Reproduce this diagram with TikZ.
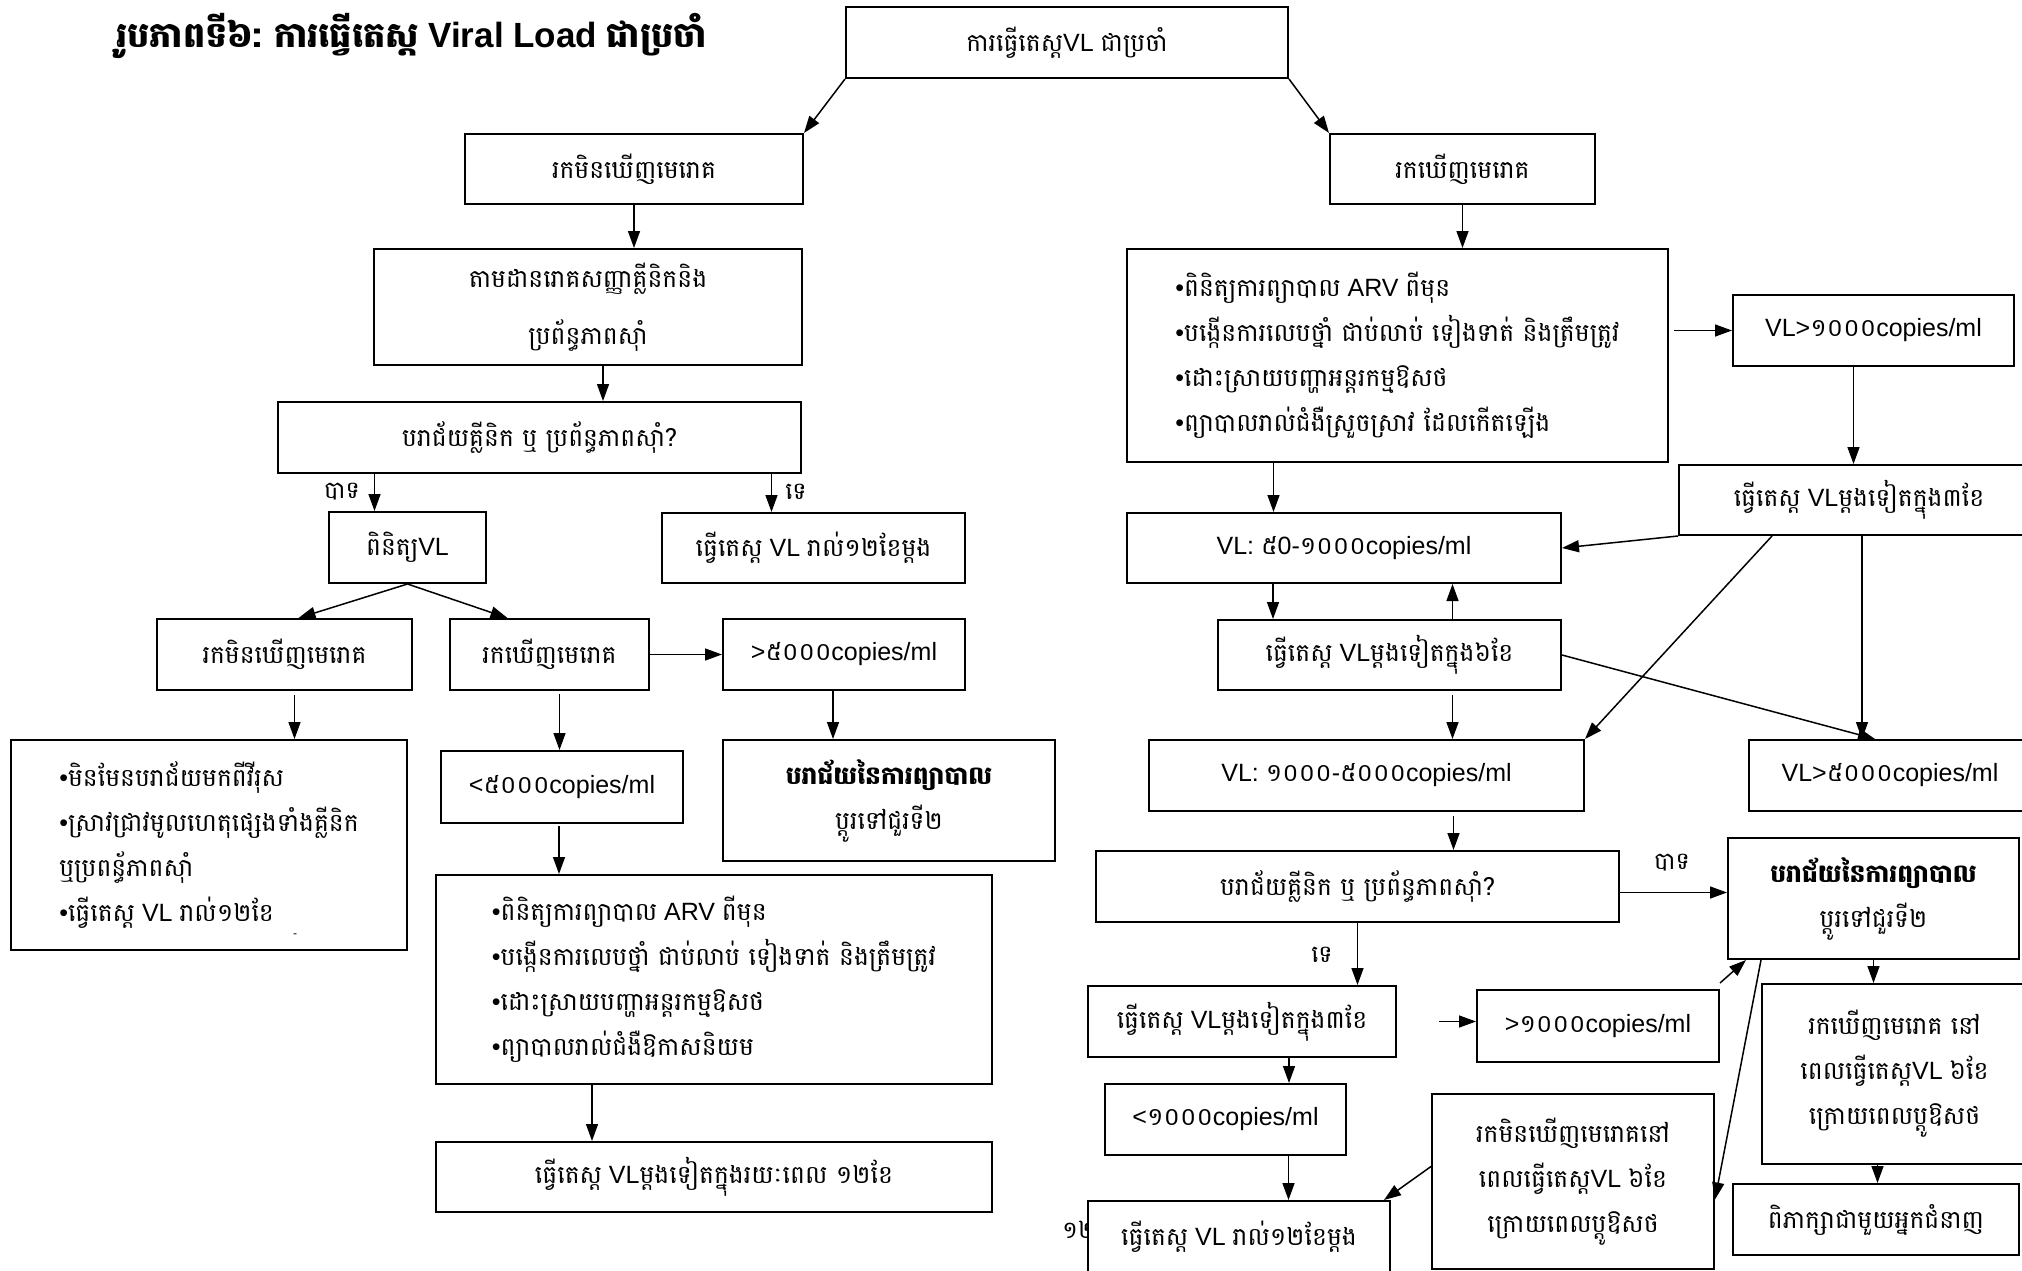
\documentclass[tikz,border=0pt]{standalone}
\usepackage{fontspec}
\setmainfont{Liberation Sans}
\newfontfamily\kh[Script=Khmer]{Battambang}
\usetikzlibrary{arrows.meta}
\newcommand\K[1]{{\kh #1}}
\begin{document}
\begin{tikzpicture}[x=1pt,y=-1pt,
 box/.style={draw, line width=2pt, fill=white, inner sep=0pt, anchor=north west, align=center, font=\fontsize{25}{30}\selectfont},
 blist/.style={box, align=left, font=\fontsize{25}{45}\selectfont},
 conn/.style={line width=1.5pt, -{Triangle[length=17pt,width=12pt]}},
 lbl/.style={font=\fontsize{24}{30}\selectfont\kh, inner sep=0pt}]
\useasboundingbox (0,0) rectangle (2022,1271);
\clip (0,0) rectangle (2022,1271);
\fill[white] (0,0) rectangle (2022,1271);

% title
\node[font=\fontsize{35}{40}\selectfont\bfseries, anchor=west] (title) at (113,36) {\K{រូបភាពទី៦:} \K{ការធ្វើតេស្ត} Viral Load \K{ជាប្រចាំ}};

% left branch
\node[box, minimum width=442pt, minimum height=71pt] (A) at (845,6) {\K{ការធ្វើតេស្ត}VL \K{ជាប្រចាំ}};
\node[box, minimum width=338pt, minimum height=70pt] (B) at (464,133) {\K{រកមិនឃើញមេរោគ}};
\node[box, minimum width=265pt, minimum height=70pt] (C) at (1329,133) {\K{រកឃើញមេរោគ}};
\node[box, minimum width=428pt, minimum height=116pt, font=\fontsize{25}{57}\selectfont] (D) at (373,248) {\K{តាមដានរោគសញ្ញាគ្លីនិកនិង}\\\K{ប្រព័ន្ធភាពស៊ាំ}};
\node[box, minimum width=523pt, minimum height=71pt] (E) at (277,401) {\K{បរាជ័យគ្លីនិក ឬ ប្រព័ន្ធភាពស៊ាំ?}};
\node[box, minimum width=157pt, minimum height=71pt] (F) at (328,511) {\K{ពិនិត្យ}VL};
\node[box, minimum width=303pt, minimum height=70pt] (G) at (661,512) {\K{ធ្វើតេស្ត} VL \K{រាល់១២ខែម្តង}};
\node[box, minimum width=255pt, minimum height=71pt] (H) at (156,618) {\K{រកមិនឃើញមេរោគ}};
\node[box, minimum width=199pt, minimum height=71pt] (I) at (449,618) {\K{រកឃើញមេរោគ}};
\node[box, minimum width=242pt, minimum height=71pt] (J) at (722,618) {>\K{៥០០០}copies/ml};
\node[blist, minimum width=396pt, minimum height=210pt] (K) at (10,739) {•\K{មិនមែនបរាជ័យមកពីវីរុស}\\•\K{ស្រាវជ្រាវមូលហេតុផ្សេងទាំងគ្លីនិក}\\\K{ឬប្រពន្ធ័ភាពស៊ាំ}\\•\K{ធ្វើតេស្ត} VL \K{រាល់១២ខែ}};
\node[font=\fontsize{12}{14}\selectfont, inner sep=0pt] (dash) at (295,936) {-};
\node[box, minimum width=242pt, minimum height=72pt] (L) at (440,750) {<\K{៥០០០}copies/ml};
\node[box, minimum width=332pt, minimum height=121pt, font=\fontsize{25}{45}\selectfont] (M) at (722,739) {\textbf{\K{បរាជ័យនៃការព្យាបាល}}\\\K{ប្តូរទៅជួរទី២}};
\node[blist, minimum width=556pt, minimum height=209pt] (N) at (435,874) {•\K{ពិនិត្យការព្យាបាល} ARV \K{ពីមុន}\\•\K{បង្កើនការលេបថ្នាំ ជាប់លាប់ ទៀងទាត់ និងត្រឹមត្រូវ}\\•\K{ដោះស្រាយបញ្ហាអន្តរកម្មឱសថ}\\•\K{ព្យាបាលរាល់ជំងឺឱកាសនិយម}};
\node[box, minimum width=556pt, minimum height=70pt] (O) at (435,1141) {\K{ធ្វើតេស្ត} VL\K{ម្តងទៀតក្នុងរយៈពេល ១២ខែ}};

% right branch
\node[blist, minimum width=541pt, minimum height=213pt] (P) at (1126,248) {•\K{ពិនិត្យការព្យាបាល} ARV \K{ពីមុន}\\•\K{បង្កើនការលេបថ្នាំ ជាប់លាប់ ទៀងទាត់ និងត្រឹមត្រូវ}\\•\K{ដោះស្រាយបញ្ហាអន្តរកម្មឱសថ}\\•\K{ព្យាបាលរាល់ជំងឺស្រួចស្រាវ ដែលកើតឡើង}};
\node[box, minimum width=281pt, minimum height=71pt] (Q) at (1732,294) {VL>\K{១០០០}copies/ml};
\node[box, minimum width=360pt, minimum height=70pt] (R) at (1678,464) {\K{ធ្វើតេស្ត} VL\K{ម្តងទៀតក្នុង៣ខែ}};
\node[box, minimum width=434pt, minimum height=70pt] (S) at (1126,512) {VL: \K{៥}0-\K{១០០០}copies/ml};
\node[box, minimum width=343pt, minimum height=70pt] (T) at (1217,619) {\K{ធ្វើតេស្ត} VL\K{ម្តងទៀតក្នុង៦ខែ}};
\node[box, minimum width=435pt, minimum height=71pt] (U) at (1148,739) {VL: \K{១០០០}-\K{៥០០០}copies/ml};
\node[box, minimum width=282pt, minimum height=71pt] (V) at (1748,739) {VL>\K{៥០០០}copies/ml};
\node[box, minimum width=523pt, minimum height=71pt] (W) at (1095,850) {\K{បរាជ័យគ្លីនិក ឬ ប្រព័ន្ធភាពស៊ាំ?}};
\node[box, minimum width=291pt, minimum height=121pt, font=\fontsize{25}{45}\selectfont] (X) at (1727,837) {\textbf{\K{បរាជ័យនៃការព្យាបាល}}\\\K{ប្តូរទៅជួរទី២}};
\node[box, minimum width=308pt, minimum height=71pt] (Y) at (1087,985) {\K{ធ្វើតេស្ត} VL\K{ម្តងទៀតក្នុង៣ខែ}};
\node[box, minimum width=242pt, minimum height=72pt] (Z) at (1476,989) {>\K{១០០០}copies/ml};
\node[box, minimum width=241pt, minimum height=71pt] (AA) at (1104,1083) {<\K{១០០០}copies/ml};
\node[lbl, anchor=west] (frag) at (1062,1230) {១២};
\node[box, minimum width=302pt, minimum height=72pt] (AB) at (1087,1200) {\K{ធ្វើតេស្ត} VL \K{រាល់១២ខែម្តង}};
\node[box, minimum width=282pt, minimum height=175pt, font=\fontsize{25}{45}\selectfont] (AC) at (1431,1093) {\K{រកមិនឃើញមេរោគនៅ}\\\K{ពេលធ្វើតេស្ត}VL \K{៦ខែ}\\\K{ក្រោយពេលប្តូឱសថ}};
\node[box, minimum width=265pt, minimum height=180pt, font=\fontsize{25}{45}\selectfont] (AD) at (1761,983) {\K{រកឃើញមេរោគ នៅ}\\\K{ពេលធ្វើតេស្ត}VL \K{៦ខែ}\\\K{ក្រោយពេលប្តូឱសថ}};
\node[box, minimum width=286pt, minimum height=71pt] (AE) at (1732,1183) {\K{ពិភាក្សាជាមួយអ្នកជំនាញ}};

% connectors left
\draw[conn] (A.south west) -- (B.north east);
\draw[conn] (A.south east) -- (C.north west);
\draw[conn] (B.south) -- (B.south |- D.north);
\draw[conn] ([xshift=15pt]D.south) -- ([xshift=15pt]D.south |- E.north);
\draw[conn] ([xshift=-33pt]F.north |- E.south) -- ([xshift=-33pt]F.north);
\draw[conn] ([xshift=-42pt]G.north |- E.south) -- ([xshift=-42pt]G.north);
\node[lbl] (yes1) at (342,492) {បាទ};
\node[lbl] (no1) at (796,492) {ទេ};
\draw[conn] (F.south) -- ([xshift=14pt]H.north);
\draw[conn] (F.south) -- ([xshift=-42pt]I.north);
\draw[conn] (I.east) -- (I.east -| J.west);
\draw[conn] ([xshift=10pt,yshift=-4pt]H.south) -- ([xshift=10pt]H.south |- K.north);
\draw[conn] ([xshift=10pt,yshift=-3pt]I.south) -- ([xshift=10pt]I.south |- L.north);
\draw[conn] ([xshift=-11pt]J.south) -- ([xshift=-11pt]J.south |- M.north);
\draw[conn] ([xshift=-3pt,yshift=-2pt]L.south) -- ([xshift=-3pt]L.south |- N.north);
\draw[conn] ([xshift=-122pt]N.south) -- ([xshift=-122pt]N.south |- O.north);

% connectors right
\draw[conn] (C.south) -- (C.south |- P.north);
\draw[conn] ([xshift=5pt]P.east |- Q.west) -- (Q.west);
\draw[conn] ([xshift=-20pt]Q.south) -- ([xshift=-20pt]Q.south |- R.north);
\draw[conn] ([xshift=-124pt]P.south) -- ([xshift=-124pt]P.south |- S.north);
\draw[conn] (R.south west) -- (S.east);
\draw[conn] ([xshift=-71pt]S.south) -- ([xshift=-71pt]S.south |- T.north);
\draw[conn] ([xshift=63pt]T.north) -- ([xshift=63pt]T.north |- S.south);
\draw[conn] ([xshift=63pt,yshift=-4pt]T.south) -- ([xshift=63pt]T.south |- U.north);
\draw[conn] ([xshift=-87pt]R.south) -- (U.north east);
\draw[conn] ([xshift=3pt]R.south) -- ([xshift=3pt]R.south |- V.north);
\draw[conn] (T.east) -- ([xshift=-15pt]V.north);
\draw[conn] ([xshift=87pt,yshift=-4pt]U.south) -- ([xshift=87pt]U.south |- W.north);
\draw[conn] ([yshift=-6pt]W.east) -- ([yshift=-6pt]W.east -| X.west);
\node[lbl] (yes2) at (1672,863) {បាទ};
\draw[conn] (W.south) -- (W.south |- Y.north);
\node[lbl] (no2) at (1322,955) {ទេ};
\draw[conn] ([xshift=42pt]Y.east) -- (Y.east -| Z.west);
\draw[conn] ([yshift=6pt]Z.north east) -- ([xshift=19pt]X.south west);
\draw[conn] ([xshift=47pt]Y.south) -- ([xshift=47pt]Y.south |- AA.north);
\draw[conn] ([xshift=63pt]AA.south) -- ([xshift=63pt]AA.south |- AB.north);
\draw[conn] ([yshift=15pt]AC.west) -- ([xshift=-7pt]AB.north east);
\draw[conn] ([xshift=34pt]X.south west) -- ([yshift=-18pt]AC.east);
\draw[conn] (X.south) -- (X.south |- AD.north);
\draw[conn] ([xshift=-17pt]AD.south) -- ([xshift=-17pt]AD.south |- AE.north);
\end{tikzpicture}
\end{document}
